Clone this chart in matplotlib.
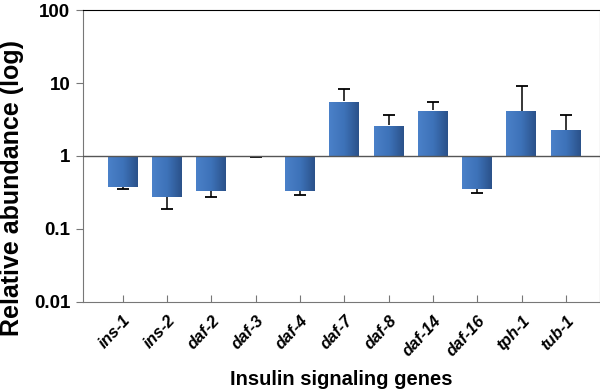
import matplotlib.pyplot as plt
import numpy as np
from matplotlib.colors import LinearSegmentedColormap

genes = ['ins-1', 'ins-2', 'daf-2', 'daf-3', 'daf-4', 'daf-7',
         'daf-8', 'daf-14', 'daf-16', 'tph-1', 'tub-1']
abundance = [0.376, 0.272, 0.335, 0.965, 0.335, 5.67, 2.63, 4.23, 0.357, 4.17, 2.29]
err_end = [0.35, 0.19, 0.272, 0.955, 0.295, 8.2, 3.64, 5.49, 0.311, 9.0, 3.64]

plt.rcParams['font.family'] = ['Liberation Sans', 'DejaVu Sans']

fig = plt.figure(figsize=(6, 3.9), dpi=100)
ax = fig.add_axes([0.138, 0.226, 0.862, 0.748])
ax.set_yscale('log')
ax.set_ylim(0.01, 100)
ax.set_xlim(-0.9, 10.77)

cmap = LinearSegmentedColormap.from_list('bar', ['#4a80c8', '#3d72b8', '#2a5088'])
grad = np.linspace(0, 1, 64).reshape(1, -1)
width = 0.68
capw = 0.27
x = np.arange(len(genes))

for xi, v in zip(x, abundance):
    bars = ax.bar(xi, v - 1, bottom=1, width=width, color='none', edgecolor='none', zorder=2)
    im = ax.imshow(grad, cmap=cmap, aspect='auto', interpolation='bilinear',
                   extent=(xi - width / 2, xi + width / 2, 0.01, 100), zorder=2)
    im.set_clip_path(bars[0])

# one-sided error bars: stem from bar end to error end, cap only at the far end
ax.vlines(x, abundance, err_end, color='black', lw=1.1, zorder=3)
ax.hlines(err_end, x - capw / 2, x + capw / 2, color='black', lw=1.3, zorder=3)

ax.axhline(1, color='#555555', lw=1, zorder=4)
ax.set_xlim(-0.9, 10.77)
ax.set_ylim(0.01, 100)

ax.set_yticks([0.01, 0.1, 1, 10, 100])
ax.set_yticklabels(['0.01', '0.1', '1', '10', '100'], fontsize=13.5, fontweight='bold')
ax.yaxis.set_minor_locator(plt.NullLocator())
ax.tick_params(axis='y', direction='out', length=5, color='#777777', pad=4)

ax.set_xticks(x)
ax.set_xticklabels(genes, rotation=47, ha='right', rotation_mode='anchor',
                   fontsize=12, fontweight='bold', fontstyle='italic')
ax.tick_params(axis='x', direction='in', length=5, color='#777777', pad=8)

for s in ['left', 'bottom', 'right']:
    ax.spines[s].set_color('#777777')
ax.spines['top'].set_color('black')

ax.set_ylabel('Relative abundance (log)', fontsize=18, fontweight='bold')
ax.yaxis.set_label_coords(-0.113, 0.39)
ax.set_xlabel('Insulin signaling genes', fontsize=14.5, fontweight='bold', labelpad=8)

plt.savefig('out.png', dpi=100)
